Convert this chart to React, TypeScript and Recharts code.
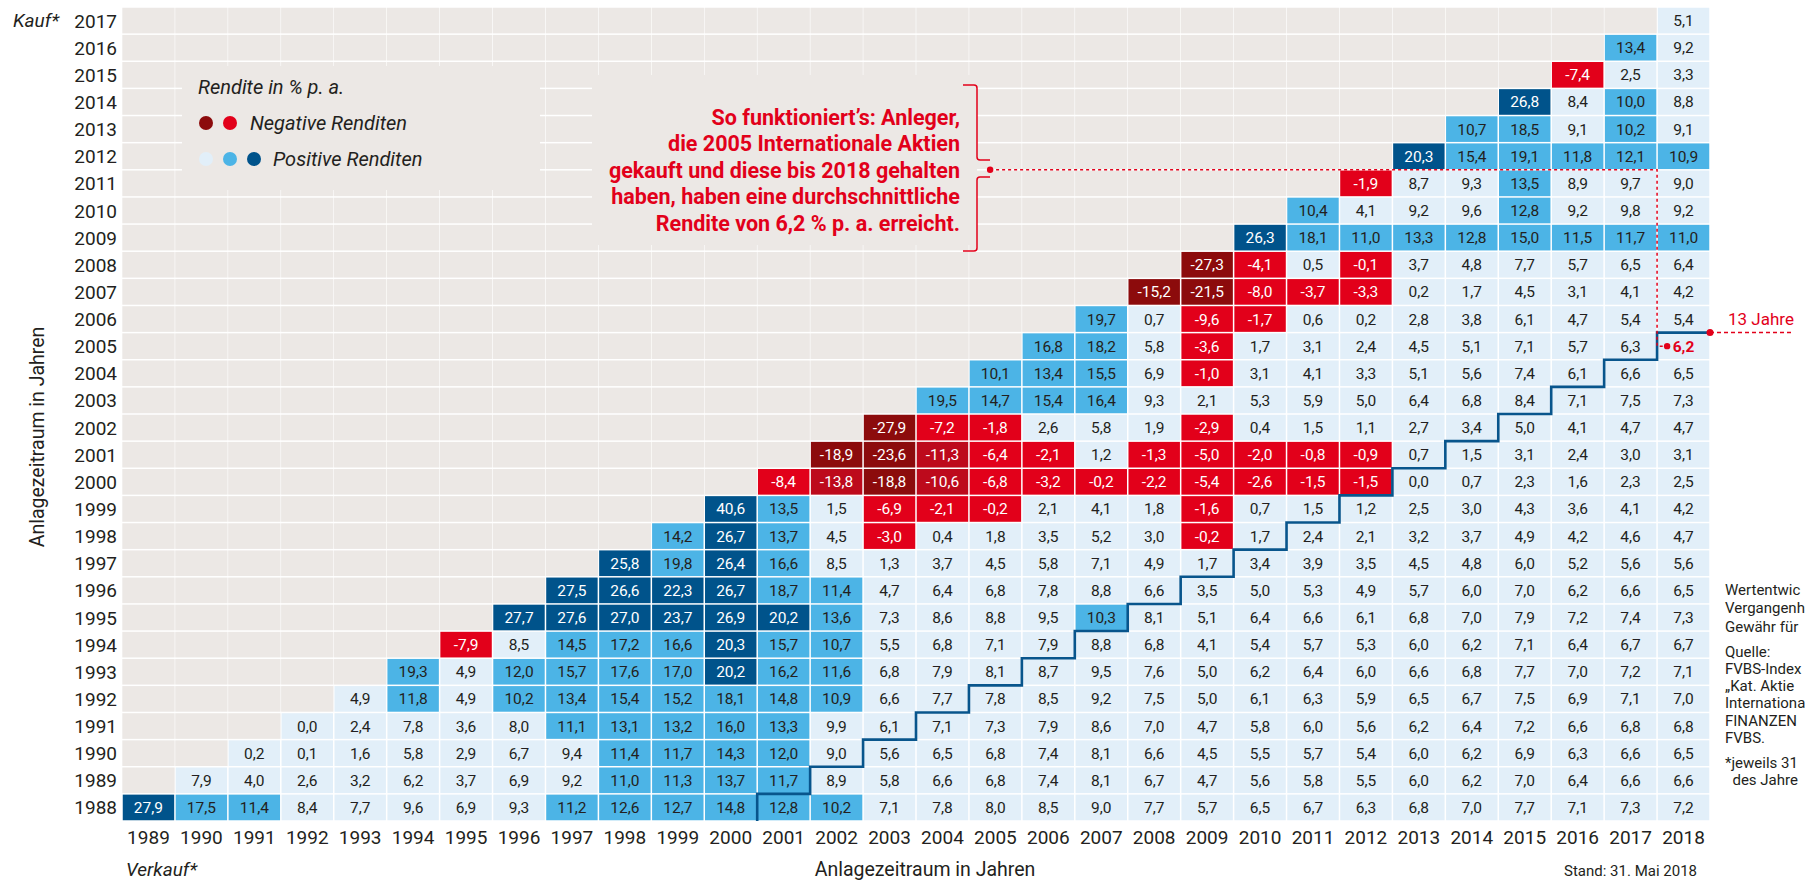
import React from 'react';
import { ScatterChart, Scatter, XAxis, YAxis } from 'recharts';

// ---------- data ----------
const buyYears = [1988, 1989, 1990, 1991, 1992, 1993, 1994, 1995, 1996, 1997, 1998, 1999, 2000, 2001, 2002, 2003, 2004, 2005, 2006, 2007, 2008, 2009, 2010, 2011, 2012, 2013, 2014, 2015, 2016, 2017];
const sellYears = [1989, 1990, 1991, 1992, 1993, 1994, 1995, 1996, 1997, 1998, 1999, 2000, 2001, 2002, 2003, 2004, 2005, 2006, 2007, 2008, 2009, 2010, 2011, 2012, 2013, 2014, 2015, 2016, 2017, 2018];

// returns in % p.a., per purchase year, for sale years purchase+1 ... 2018
const kauf1988 = [27.9, 17.5, 11.4, 8.4, 7.7, 9.6, 6.9, 9.3, 11.2, 12.6, 12.7, 14.8, 12.8, 10.2, 7.1, 7.8, 8.0, 8.5, 9.0, 7.7, 5.7, 6.5, 6.7, 6.3, 6.8, 7.0, 7.7, 7.1, 7.3, 7.2];
const kauf1989 = [7.9, 4.0, 2.6, 3.2, 6.2, 3.7, 6.9, 9.2, 11.0, 11.3, 13.7, 11.7, 8.9, 5.8, 6.6, 6.8, 7.4, 8.1, 6.7, 4.7, 5.6, 5.8, 5.5, 6.0, 6.2, 7.0, 6.4, 6.6, 6.6];
const kauf1990 = [0.2, 0.1, 1.6, 5.8, 2.9, 6.7, 9.4, 11.4, 11.7, 14.3, 12.0, 9.0, 5.6, 6.5, 6.8, 7.4, 8.1, 6.6, 4.5, 5.5, 5.7, 5.4, 6.0, 6.2, 6.9, 6.3, 6.6, 6.5];
const kauf1991 = [0.0, 2.4, 7.8, 3.6, 8.0, 11.1, 13.1, 13.2, 16.0, 13.3, 9.9, 6.1, 7.1, 7.3, 7.9, 8.6, 7.0, 4.7, 5.8, 6.0, 5.6, 6.2, 6.4, 7.2, 6.6, 6.8, 6.8];
const kauf1992 = [4.9, 11.8, 4.9, 10.2, 13.4, 15.4, 15.2, 18.1, 14.8, 10.9, 6.6, 7.7, 7.8, 8.5, 9.2, 7.5, 5.0, 6.1, 6.3, 5.9, 6.5, 6.7, 7.5, 6.9, 7.1, 7.0];
const kauf1993 = [19.3, 4.9, 12.0, 15.7, 17.6, 17.0, 20.2, 16.2, 11.6, 6.8, 7.9, 8.1, 8.7, 9.5, 7.6, 5.0, 6.2, 6.4, 6.0, 6.6, 6.8, 7.7, 7.0, 7.2, 7.1];
const kauf1994 = [-7.9, 8.5, 14.5, 17.2, 16.6, 20.3, 15.7, 10.7, 5.5, 6.8, 7.1, 7.9, 8.8, 6.8, 4.1, 5.4, 5.7, 5.3, 6.0, 6.2, 7.1, 6.4, 6.7, 6.7];
const kauf1995 = [27.7, 27.6, 27.0, 23.7, 26.9, 20.2, 13.6, 7.3, 8.6, 8.8, 9.5, 10.3, 8.1, 5.1, 6.4, 6.6, 6.1, 6.8, 7.0, 7.9, 7.2, 7.4, 7.3];
const kauf1996 = [27.5, 26.6, 22.3, 26.7, 18.7, 11.4, 4.7, 6.4, 6.8, 7.8, 8.8, 6.6, 3.5, 5.0, 5.3, 4.9, 5.7, 6.0, 7.0, 6.2, 6.6, 6.5];
const kauf1997 = [25.8, 19.8, 26.4, 16.6, 8.5, 1.3, 3.7, 4.5, 5.8, 7.1, 4.9, 1.7, 3.4, 3.9, 3.5, 4.5, 4.8, 6.0, 5.2, 5.6, 5.6];
const kauf1998 = [14.2, 26.7, 13.7, 4.5, -3.0, 0.4, 1.8, 3.5, 5.2, 3.0, -0.2, 1.7, 2.4, 2.1, 3.2, 3.7, 4.9, 4.2, 4.6, 4.7];
const kauf1999 = [40.6, 13.5, 1.5, -6.9, -2.1, -0.2, 2.1, 4.1, 1.8, -1.6, 0.7, 1.5, 1.2, 2.5, 3.0, 4.3, 3.6, 4.1, 4.2];
const kauf2000 = [-8.4, -13.8, -18.8, -10.6, -6.8, -3.2, -0.2, -2.2, -5.4, -2.6, -1.5, -1.5, 0.0, 0.7, 2.3, 1.6, 2.3, 2.5];
const kauf2001 = [-18.9, -23.6, -11.3, -6.4, -2.1, 1.2, -1.3, -5.0, -2.0, -0.8, -0.9, 0.7, 1.5, 3.1, 2.4, 3.0, 3.1];
const kauf2002 = [-27.9, -7.2, -1.8, 2.6, 5.8, 1.9, -2.9, 0.4, 1.5, 1.1, 2.7, 3.4, 5.0, 4.1, 4.7, 4.7];
const kauf2003 = [19.5, 14.7, 15.4, 16.4, 9.3, 2.1, 5.3, 5.9, 5.0, 6.4, 6.8, 8.4, 7.1, 7.5, 7.3];
const kauf2004 = [10.1, 13.4, 15.5, 6.9, -1.0, 3.1, 4.1, 3.3, 5.1, 5.6, 7.4, 6.1, 6.6, 6.5];
const kauf2005 = [16.8, 18.2, 5.8, -3.6, 1.7, 3.1, 2.4, 4.5, 5.1, 7.1, 5.7, 6.3, 6.2];
const kauf2006 = [19.7, 0.7, -9.6, -1.7, 0.6, 0.2, 2.8, 3.8, 6.1, 4.7, 5.4, 5.4];
const kauf2007 = [-15.2, -21.5, -8.0, -3.7, -3.3, 0.2, 1.7, 4.5, 3.1, 4.1, 4.2];
const kauf2008 = [-27.3, -4.1, 0.5, -0.1, 3.7, 4.8, 7.7, 5.7, 6.5, 6.4];
const kauf2009 = [26.3, 18.1, 11.0, 13.3, 12.8, 15.0, 11.5, 11.7, 11.0];
const kauf2010 = [10.4, 4.1, 9.2, 9.6, 12.8, 9.2, 9.8, 9.2];
const kauf2011 = [-1.9, 8.7, 9.3, 13.5, 8.9, 9.7, 9.0];
const kauf2012 = [20.3, 15.4, 19.1, 11.8, 12.1, 10.9];
const kauf2013 = [10.7, 18.5, 9.1, 10.2, 9.1];
const kauf2014 = [26.8, 8.4, 10.0, 8.8];
const kauf2015 = [-7.4, 2.5, 3.3];
const kauf2016 = [13.4, 9.2];
const kauf2017 = [5.1];

const rowsByBuyYear = [
  kauf1988, kauf1989, kauf1990, kauf1991, kauf1992, kauf1993, kauf1994, kauf1995, kauf1996, kauf1997,
  kauf1998, kauf1999, kauf2000, kauf2001, kauf2002, kauf2003, kauf2004, kauf2005, kauf2006, kauf2007,
  kauf2008, kauf2009, kauf2010, kauf2011, kauf2012, kauf2013, kauf2014, kauf2015, kauf2016, kauf2017,
];

const HOLD_YEARS = 13;
const EXAMPLE_BUY = 2005;
const EXAMPLE_SELL = 2018;

// ---------- layout ----------
const W = 1805;
const H = 880;
const MARGIN = { top: 7, right: 95, bottom: 0, left: 0 };
const Y_AXIS_W = 122;
const X_AXIS_H = 59;
const PLOT_W = W - Y_AXIS_W - MARGIN.right - MARGIN.left;
const PLOT_H = H - MARGIN.top - X_AXIS_H - MARGIN.bottom;
const CW = PLOT_W / sellYears.length;
const RH = PLOT_H / buyYears.length;

const FONT = 'Roboto, "Open Sans", Arial, sans-serif';
const GREY = '#ece8e5';
const LIGHT = '#e2eff9';
const MID = '#4cb4e6';
const DARK = '#00538b';
const RED = '#e2001a';
const MIDRED = '#bd0a1c';
const DARKRED = '#8c0b0c';
const INK = '#231f20';
const STEP = '#08558c';

const fillFor = (v: number) => {
  if (v <= -15) return DARKRED;
  if (v <= -10) return MIDRED;
  if (v < 0) return RED;
  if (v < 10) return LIGHT;
  if (v < 20) return MID;
  return DARK;
};
const textFor = (v: number) => (v < 0 || v >= 20 ? '#ffffff' : INK);
const fmt = (v: number) => v.toFixed(1).replace('.', ',');

// ---------- derived tables ----------
const valueCells: { x: number; y: number; v: number; hl: boolean }[] = [];
const emptyCells: { x: number; y: number }[] = [];
buyYears.forEach((b, i) => {
  const vals = rowsByBuyYear[i];
  vals.forEach((v, j) => {
    const s = b + 1 + j;
    valueCells.push({ x: s, y: b, v, hl: b === EXAMPLE_BUY && s === EXAMPLE_SELL });
  });
  sellYears.filter((s) => s <= b).forEach((s) => emptyCells.push({ x: s, y: b }));
});

// staircase separating holding periods >= 13 years
const stepBuyYears = buyYears.filter((b) => b + HOLD_YEARS <= EXAMPLE_SELL);
const stepPoints: { x: number; y: number; end?: boolean }[] = [
  { x: stepBuyYears[0] + HOLD_YEARS - 0.5, y: stepBuyYears[0] - 0.5 },
];
stepBuyYears.forEach((b) => {
  stepPoints.push({ x: b + HOLD_YEARS - 0.5, y: b + 0.5 });
  stepPoints.push({ x: b + HOLD_YEARS + 0.5, y: b + 0.5 });
});
stepPoints[stepPoints.length - 1].end = true;

// red guide from the explanation to the example cell
const guidePoints = [
  { x: 2004.9, y: 2011.5, dot: true },
  { x: EXAMPLE_SELL - 0.5, y: 2011.5 },
  { x: EXAMPLE_SELL - 0.5, y: EXAMPLE_BUY },
  { x: EXAMPLE_SELL - 0.31, y: EXAMPLE_BUY, dot: true },
];

// ---------- shapes ----------
const EmptyCell = (p: any) => (
  <rect x={p.cx - CW / 2 + 0.3} y={p.cy - RH / 2 + 0.75} width={CW - 0.6} height={RH - 1.5} fill={GREY} />
);

const ValueCell = (p: any) => {
  const { cx, cy, payload } = p;
  const v = payload.v as number;
  const hl = payload.hl as boolean;
  return (
    <g>
      <rect x={cx - CW / 2 + 0.75} y={cy - RH / 2 + 0.75} width={CW - 1.5} height={RH - 1.5} fill={fillFor(v)} />
      <text
        x={cx}
        y={cy + 5.5}
        textAnchor="middle"
        fontSize={15.5}
        fontFamily={FONT}
        fontWeight={hl ? 700 : 400}
        fill={hl ? RED : textFor(v)}
      >
        {fmt(v)}
      </text>
    </g>
  );
};

const StepVertex = (p: any) => {
  if (!p.payload.end) return <g />;
  const { cx, cy } = p;
  return (
    <g>
      <line x1={cx} y1={cy} x2={cx + 82} y2={cy} stroke={RED} strokeWidth={1.5} strokeDasharray="4 3" />
      <circle cx={cx} cy={cy} r={3.5} fill={RED} />
      <text x={cx + 18} y={cy - 8} fontSize={17} fontFamily={FONT} fill={RED}>
        13 Jahre
      </text>
    </g>
  );
};

const GuideVertex = (p: any) => (p.payload.dot ? <circle cx={p.cx} cy={p.cy} r={3.2} fill={RED} /> : <g />);

const XTick = (p: any) => (
  <text x={p.x} y={p.y + 23} textAnchor="middle" fontSize={19} fontFamily={FONT} fill={INK}>
    {p.payload.value}
  </text>
);
const YTick = (p: any) => (
  <text x={p.x - 5} y={p.y + 7} textAnchor="end" fontSize={19} fontFamily={FONT} fill={INK}>
    {p.payload.value}
  </text>
);

// ---------- overlay (legend, notes) ----------
const annotationLines = [
  'So funktioniert’s: Anleger,',
  'die 2005 Internationale Aktien',
  'gekauft und diese bis 2018 gehalten',
  'haben, haben eine durchschnittliche',
  'Rendite von 6,2 % p. a. erreicht.',
];
const noteLines: [string, number][] = [
  ['Wertentwic', 590],
  ['Vergangenh', 608],
  ['Gewähr für', 626.5],
  ['Quelle:', 651.5],
  ['FVBS-Index', 669],
  ['„Kat. Aktie', 686],
  ['Internationa', 703],
  ['FINANZEN', 720.5],
  ['FVBS.', 738],
  ['*jeweils 31', 763],
  ['  des Jahre', 780],
];

const Overlay = () => (
  <svg width={W} height={H} style={{ position: 'absolute', left: 0, top: 0, pointerEvents: 'none' }}>
    {/* legend box */}
    <rect x={182} y={66} width={358} height={124} fill={GREY} />
    <text x={198} y={94} fontSize={20} fontStyle="italic" fontFamily={FONT} fill={INK}>
      Rendite in % p. a.
    </text>
    <circle cx={206} cy={123} r={7} fill={DARKRED} />
    <circle cx={230} cy={123} r={7} fill={RED} />
    <text x={250} y={130} fontSize={20} fontStyle="italic" fontFamily={FONT} fill={INK}>
      Negative Renditen
    </text>
    <circle cx={206} cy={159} r={7} fill={LIGHT} />
    <circle cx={230} cy={159} r={7} fill={MID} />
    <circle cx={254} cy={159} r={7} fill={DARK} />
    <text x={273} y={166} fontSize={20} fontStyle="italic" fontFamily={FONT} fill={INK}>
      Positive Renditen
    </text>

    {/* explanation box */}
    <rect x={592} y={75} width={385} height={170} fill={GREY} />
    {annotationLines.map((t, i) => (
      <text key={t} x={960} y={124.5 + i * 26.5} textAnchor="end" fontSize={21.5} fontWeight={700} fontFamily={FONT} fill={RED}>
        {t}
      </text>
    ))}
    <path
      d="M963,85 H974 Q977,85 977,88 V157 Q977,160 980,160 H990 M990,177 H980 Q977,177 977,180 V248 Q977,251 974,251 H963"
      fill="none"
      stroke={RED}
      strokeWidth={1.5}
    />

    {/* axis words */}
    <text x={13} y={27} fontSize={19} fontStyle="italic" fontFamily={FONT} fill={INK}>
      Kauf*
    </text>
    <text x={126} y={876} fontSize={19} fontStyle="italic" fontFamily={FONT} fill={INK}>
      Verkauf*
    </text>
    <text x={925} y={876} textAnchor="middle" fontSize={19.5} fontFamily={FONT} fill={INK}>
      Anlagezeitraum in Jahren
    </text>
    <text
      x={0}
      y={0}
      transform={`translate(44, ${MARGIN.top + PLOT_H / 2 + 23}) rotate(-90)`}
      textAnchor="middle"
      fontSize={19.5}
      fontFamily={FONT}
      fill={INK}
    >
      Anlagezeitraum in Jahren
    </text>
    <text x={1697} y={876} textAnchor="end" fontSize={15} fontFamily={FONT} fill={INK}>
      Stand: 31. Mai 2018
    </text>
    {noteLines.map(([t, y]) => (
      <text key={t} x={1725} y={y + 5} fontSize={15} fontFamily={FONT} fill={INK} style={{ whiteSpace: 'pre' }}>
        {t}
      </text>
    ))}
  </svg>
);

export default function App() {
  return (
    <div style={{ position: 'absolute', left: 0, top: 0, width: W, height: H, overflow: 'hidden', background: '#fff' }}>
      <ScatterChart width={W} height={H} margin={MARGIN}>
        <XAxis
          type="number"
          dataKey="x"
          domain={[sellYears[0] - 0.5, sellYears[sellYears.length - 1] + 0.5]}
          ticks={sellYears}
          interval={0}
          height={X_AXIS_H}
          axisLine={false}
          tickLine={false}
          tickSize={0}
          tickMargin={0}
          tick={<XTick />}
        />
        <YAxis
          type="number"
          dataKey="y"
          domain={[buyYears[0] - 0.5, buyYears[buyYears.length - 1] + 0.5]}
          ticks={buyYears}
          interval={0}
          width={Y_AXIS_W}
          axisLine={false}
          tickLine={false}
          tickSize={0}
          tickMargin={0}
          tick={<YTick />}
        />
        <Scatter data={emptyCells} shape={EmptyCell} isAnimationActive={false} />
        <Scatter data={valueCells} shape={ValueCell} isAnimationActive={false} />
        <Scatter
          data={stepPoints}
          shape={StepVertex}
          fill="none"
          line={{ stroke: STEP, strokeWidth: 2.6 }}
          lineType="joint"
          isAnimationActive={false}
        />
        <Scatter
          data={guidePoints}
          shape={GuideVertex}
          fill="none"
          line={{ stroke: RED, strokeWidth: 1.5, strokeDasharray: '3 3' }}
          lineType="joint"
          isAnimationActive={false}
        />
      </ScatterChart>
      <Overlay />
    </div>
  );
}
